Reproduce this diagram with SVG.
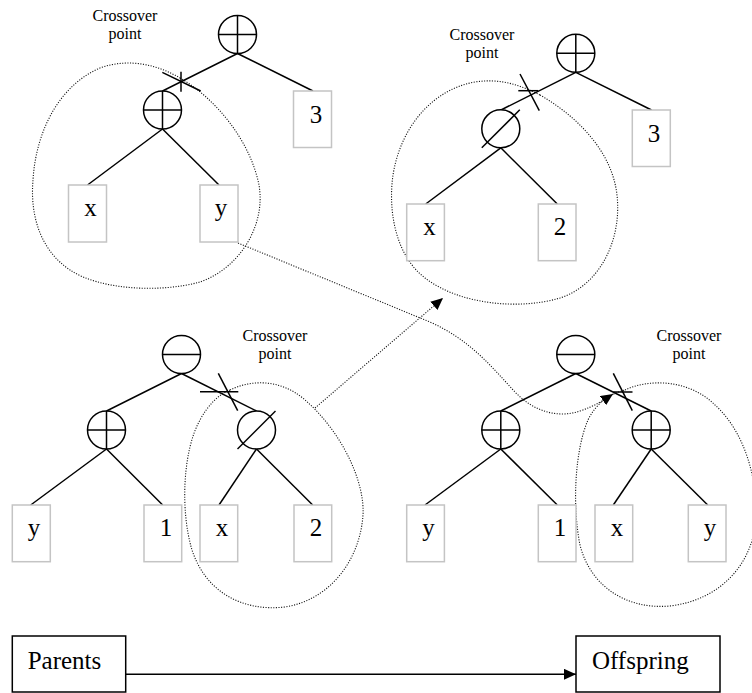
<svg xmlns="http://www.w3.org/2000/svg" width="752" height="693" viewBox="0 0 752 693">
  <style>
    .op { fill: #fff; stroke: #000; stroke-width: 1.5; }
    .sym { stroke: #000; stroke-width: 1.5; fill: none; }
    .leaf { fill: #fff; stroke: #c4c4c4; stroke-width: 1.5; }
    .lbl { font-family: "Liberation Serif", "Times New Roman", serif; font-size: 25px; text-anchor: middle; fill: #000; }
    .note { font-family: "Liberation Serif", "Times New Roman", serif; font-size: 16px; text-anchor: middle; fill: #000; }
    .edge { stroke: #000; stroke-width: 1.5; fill: none; }
    .dot { stroke: #111; stroke-width: 1.1; stroke-dasharray: 1.1 1.5; fill: none; }
    .box { fill: #fff; stroke: #000; stroke-width: 1.5; }
  </style>
  <defs>
    <marker id="head" markerUnits="userSpaceOnUse" markerWidth="12" markerHeight="11" refX="12" refY="5.5" orient="auto">
      <path d="M0,0 L12,5.5 L0,11 Z" fill="#000"/>
    </marker>
  </defs>
  <rect width="752" height="693" fill="#fff"/>

  <!-- selected subtrees -->
  <g id="regions" class="dot">
    <path d="M180,78 C215,98 250,140 259,185 C266,225 240,268 200,282 C160,293 100,290 70,270 C40,250 30,215 33,180 C36,130 60,85 100,68 C130,57 160,66 180,78 Z"/>
    <path d="M540,95 C575,115 612,150 617,195 C622,240 600,285 560,298 C520,310 460,305 425,278 C395,255 388,210 393,175 C400,130 430,90 475,82 C500,78 520,85 540,95 Z"/>
    <path d="M230,390 C250,380 280,378 305,400 C340,430 365,480 363,515 C360,560 330,600 285,607 C240,612 205,590 192,550 C180,510 183,450 200,420 C208,405 218,395 230,390 Z"/>
    <path d="M625,390 C650,378 690,380 715,405 C745,432 758,480 756,520 C752,565 720,600 670,606 C625,610 590,585 580,545 C572,505 575,450 588,420 C596,403 610,394 625,390 Z"/>
  </g>

  <g id="connectors">
    <!-- tree edges -->
    <g class="edge">
      <line x1="237.5" y1="53.5" x2="162.5" y2="91"/>
      <line x1="237.5" y1="53.5" x2="313" y2="91"/>
      <line x1="162.5" y1="129" x2="87.5" y2="185"/>
      <line x1="162.5" y1="129" x2="219" y2="185"/>

      <line x1="575.8" y1="72.3" x2="501" y2="110"/>
      <line x1="575.8" y1="72.3" x2="651.5" y2="110"/>
      <line x1="500.8" y1="147.8" x2="425.7" y2="204"/>
      <line x1="500.8" y1="147.8" x2="557.3" y2="204"/>

      <line x1="181.5" y1="373.5" x2="106.5" y2="411"/>
      <line x1="181.5" y1="373.5" x2="256.5" y2="411"/>
      <line x1="106.5" y1="449" x2="30.7" y2="505"/>
      <line x1="106.5" y1="449" x2="162.7" y2="505"/>
      <line x1="256.5" y1="449" x2="219" y2="505"/>
      <line x1="256.5" y1="449" x2="312.7" y2="505"/>

      <line x1="575.8" y1="373.5" x2="500.8" y2="411"/>
      <line x1="575.8" y1="373.5" x2="651.2" y2="411"/>
      <line x1="500.8" y1="449" x2="425" y2="505"/>
      <line x1="500.8" y1="449" x2="557.3" y2="505"/>
      <line x1="651.2" y1="449" x2="613.3" y2="505"/>
      <line x1="651.2" y1="449" x2="707.7" y2="505"/>
    </g>
    <!-- crossover cut marks -->
    <g class="edge">
      <line x1="162.3" y1="72.3" x2="200.7" y2="91"/>
      <line x1="181" y1="71.7" x2="181" y2="91.7"/>
      <line x1="520" y1="74" x2="539.3" y2="110.7"/>
      <line x1="518.3" y1="90.7" x2="538.3" y2="90.7"/>
      <line x1="218.3" y1="373.3" x2="237.7" y2="410.7"/>
      <line x1="200" y1="391.7" x2="238.3" y2="391.7"/>
      <line x1="613.3" y1="373.3" x2="632.3" y2="410.7"/>
      <line x1="613.3" y1="392" x2="632.5" y2="392"/>
    </g>
    <!-- subtree swaps -->
    <path class="dot" d="M315,408 L443,298" marker-end="url(#head)"/>
    <path class="dot" d="M238,243 L430,322 C470,340 490,365 515,392 C535,413 560,418 580,411 C595,406 604,400 613,394" marker-end="url(#head)"/>
    <!-- parents to offspring -->
    <line class="edge" x1="125.7" y1="674.3" x2="576" y2="674.3" marker-end="url(#head)"/>
  </g>

  <!-- parent 1 -->
  <g id="p1-root"><circle class="op" cx="237.5" cy="34.5" r="19"/><path class="sym" d="M218.5,34.5 H256.5 M237.5,15.5 V53.5"/></g>
  <g id="p1-add"><circle class="op" cx="162.5" cy="110" r="19"/><path class="sym" d="M143.5,110 H181.5 M162.5,91 V129"/></g>
  <g id="p1-3"><rect class="leaf" x="293.5" y="91" width="38" height="56.5"/><text class="lbl" x="316" y="123">3</text></g>
  <g id="p1-x"><rect class="leaf" x="68.5" y="185" width="38" height="57"/><text class="lbl" x="90.5" y="216">x</text></g>
  <g id="p1-y"><rect class="leaf" x="200" y="185" width="38" height="57"/><text class="lbl" x="221" y="216">y</text></g>
  <g id="p1-note"><text class="note" x="125" y="21">Crossover</text><text class="note" x="125" y="39">point</text></g>

  <!-- offspring 1 -->
  <g id="o1-root"><circle class="op" cx="575.8" cy="53.3" r="19"/><path class="sym" d="M556.8,53.3 H594.8 M575.8,34.3 V72.3"/></g>
  <g id="o1-div"><circle class="op" cx="500.8" cy="128.8" r="19"/><path class="sym" d="M481.8,147.8 L519.8,109.8"/></g>
  <g id="o1-3"><rect class="leaf" x="632.3" y="110" width="38" height="56.5"/><text class="lbl" x="654" y="142">3</text></g>
  <g id="o1-x"><rect class="leaf" x="406.7" y="204" width="37.7" height="56.7"/><text class="lbl" x="429.5" y="235">x</text></g>
  <g id="o1-2"><rect class="leaf" x="538.3" y="204" width="37.7" height="56.7"/><text class="lbl" x="560" y="235">2</text></g>
  <g id="o1-note"><text class="note" x="482" y="40">Crossover</text><text class="note" x="482" y="58">point</text></g>

  <!-- parent 2 -->
  <g id="p2-root"><circle class="op" cx="181.5" cy="354.5" r="19"/><path class="sym" d="M162.5,354.5 H200.5"/></g>
  <g id="p2-add"><circle class="op" cx="106.5" cy="430" r="19"/><path class="sym" d="M87.5,430 H125.5 M106.5,411 V449"/></g>
  <g id="p2-div"><circle class="op" cx="256.5" cy="430" r="19"/><path class="sym" d="M237.5,449 L275.5,411"/></g>
  <g id="p2-y"><rect class="leaf" x="12.3" y="505" width="38" height="56.7"/><text class="lbl" x="34" y="536">y</text></g>
  <g id="p2-1"><rect class="leaf" x="144" y="505" width="37.7" height="56.7"/><text class="lbl" x="166" y="536">1</text></g>
  <g id="p2-x"><rect class="leaf" x="200" y="505" width="37.7" height="56.7"/><text class="lbl" x="222" y="536">x</text></g>
  <g id="p2-2"><rect class="leaf" x="294" y="505" width="37.7" height="56.7"/><text class="lbl" x="316" y="536">2</text></g>
  <g id="p2-note"><text class="note" x="275" y="341">Crossover</text><text class="note" x="275" y="358.5">point</text></g>

  <!-- offspring 2 -->
  <g id="o2-root"><circle class="op" cx="575.8" cy="354.5" r="19"/><path class="sym" d="M556.8,354.5 H594.8"/></g>
  <g id="o2-add1"><circle class="op" cx="500.8" cy="430" r="19"/><path class="sym" d="M481.8,430 H519.8 M500.8,411 V449"/></g>
  <g id="o2-add2"><circle class="op" cx="651.2" cy="430" r="19"/><path class="sym" d="M632.2,430 H670.2 M651.2,411 V449"/></g>
  <g id="o2-y1"><rect class="leaf" x="406.7" y="505" width="37.7" height="56.7"/><text class="lbl" x="428.5" y="536">y</text></g>
  <g id="o2-1"><rect class="leaf" x="538.3" y="505" width="37.7" height="56.7"/><text class="lbl" x="560" y="536">1</text></g>
  <g id="o2-x"><rect class="leaf" x="595" y="505" width="37.7" height="56.7"/><text class="lbl" x="617" y="536">x</text></g>
  <g id="o2-y2"><rect class="leaf" x="688.3" y="505" width="37.7" height="56.7"/><text class="lbl" x="710" y="536">y</text></g>
  <g id="o2-note"><text class="note" x="689" y="341">Crossover</text><text class="note" x="689" y="358.5">point</text></g>

  <!-- legend -->
  <g id="parents"><rect class="box" x="12.3" y="636" width="113.4" height="56"/><text class="lbl" x="64.5" y="668.5">Parents</text></g>
  <g id="offspring"><rect class="box" x="576" y="636" width="144" height="56"/><text class="lbl" x="640.3" y="668.5">Offspring</text></g>
</svg>
